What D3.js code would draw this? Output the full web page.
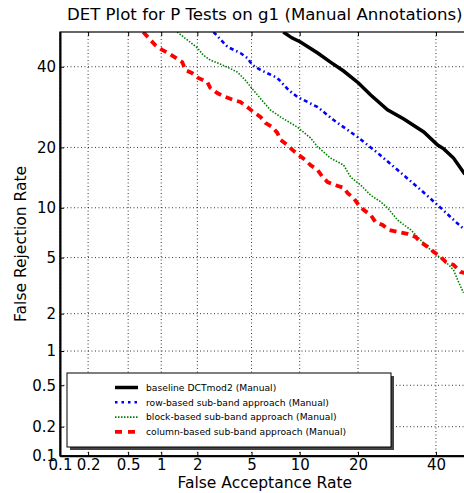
<!DOCTYPE html>
<html>
<head>
<meta charset="utf-8">
<script src="https://cdn.jsdelivr.net/npm/d3@7"></script>
<style>
body { margin: 0; background: #fff; }
svg { display: block; font-family: "DejaVu Sans", sans-serif; }
</style>
</head>
<body>
<script>
// tick labels (percent)
const tickPct = [0.1, 0.2, 0.5, 1, 2, 5, 10, 20, 40];

const seriesNames = [
    "baseline DCTmod2 (Manual)",
    "row-based sub-band approach (Manual)",
    "block-based sub-band approach (Manual)",
    "column-based sub-band approach (Manual)"
];

// false acceptance / false rejection, in percent
const baselineFA = [8.0, 9.0, 10.1, 12.6, 14.7, 17.1, 20.1, 22.8, 26.8, 31.0, 36.5, 40.5, 42.3, 45.2, 48.6];
const baselineFR = [50, 48.3, 47.1, 43.9, 41.3, 38.8, 35.5, 32.3, 28.5, 26.3, 23.3, 20.5, 19.7, 17.9, 15.0];

const rowFA = [2.67, 3.39, 4.19, 4.68, 5.06, 5.73, 7.35, 8.6, 9.7, 12.6, 15.2, 19.9, 24.4, 29.4, 35.6, 39.9, 42.9, 45.9, 48.6];
const rowFR = [50, 45.7, 43.9, 42.5, 40.5, 39.1, 36.9, 33.6, 31.8, 29.2, 26.1, 22.2, 18.9, 15.7, 12.5, 10.6, 9.4, 8.3, 7.45];

const blockFA = [1.37, 1.66, 2.0, 2.23, 2.52, 2.85, 3.38, 3.99, 4.53, 5.14, 5.99, 6.64, 7.68, 9.7, 11.5, 12.6, 14.7, 17.1, 18.5, 20.6, 22.8, 25.1, 26.8, 29.4, 32.9, 35.6, 39.3, 42.3, 45.2, 46.7, 48.2];
const blockFR = [50, 47.7, 45.4, 43.3, 41.9, 41.1, 39.9, 38.5, 36.3, 33.6, 30.5, 28.5, 26.8, 24.4, 22.0, 20.1, 17.9, 16.6, 14.5, 13.2, 11.7, 10.8, 10.0, 8.5, 7.45, 6.47, 5.36, 4.83, 4.14, 3.42, 2.86];

const columnFA = [0.69, 0.885, 1.02, 1.15, 1.51, 1.6, 1.82, 2.03, 2.39, 2.52, 2.85, 3.27, 3.74, 4.19, 4.68, 5.14, 5.73, 6.17, 6.83, 7.35, 7.68, 8.47, 9.08, 9.85, 10.8, 11.5, 12.6, 13.4, 14.2, 15.6, 17.1, 17.9, 19.1, 20.1, 21.2, 22.8, 23.9, 25.6, 27.1, 29.6, 32.0, 34.2, 35.6, 37.6, 39.3, 41.4, 42.9, 45.2, 47.3, 49.5];
const columnFR = [50, 46.2, 44.8, 43.9, 41.3, 39.1, 38.2, 36.9, 35.8, 34.2, 32.8, 31.8, 31.0, 30.5, 29.2, 28.0, 26.8, 25.4, 24.4, 23.1, 21.6, 20.5, 19.5, 18.5, 17.5, 16.6, 15.7, 14.5, 13.7, 13.2, 12.8, 12.0, 11.3, 10.4, 9.74, 9.1, 8.3, 7.97, 7.45, 7.24, 7.05, 6.76, 6.29, 5.86, 5.45, 5.05, 4.69, 4.48, 4.01, 3.9];

// inverse normal cdf (Acklam)
function probit(p) {
    const a = [-3.969683028665376e+01, 2.209460984245205e+02, -2.759285104469687e+02, 1.383577518672690e+02, -3.066479806614716e+01, 2.506628277459239e+00];
    const b = [-5.447609879822406e+01, 1.615858368580409e+02, -1.556989798598866e+02, 6.680131188771972e+01, -1.328068155288572e+01];
    const c = [-7.784894002430293e-03, -3.223964580411365e-01, -2.400758277161838e+00, -2.549671627434894e+00, 4.374664141464968e+00, 2.938163982698783e+00];
    const d = [7.784695709041462e-03, 3.224671290700398e-01, 2.445134137142996e+00, 3.754408661907416e+00];
    const pl = 0.02425;
    if (p < pl) {
        const q = Math.sqrt(-2 * Math.log(p));
        return (((((c[0]*q+c[1])*q+c[2])*q+c[3])*q+c[4])*q+c[5]) / ((((d[0]*q+d[1])*q+d[2])*q+d[3])*q+1);
    }
    if (p <= 1 - pl) {
        const q = p - 0.5, r = q * q;
        return (((((a[0]*r+a[1])*r+a[2])*r+a[3])*r+a[4])*r+a[5])*q / (((((b[0]*r+b[1])*r+b[2])*r+b[3])*r+b[4])*r+1);
    }
    const q = Math.sqrt(-2 * Math.log(1 - p));
    return -(((((c[0]*q+c[1])*q+c[2])*q+c[3])*q+c[4])*q+c[5]) / ((((d[0]*q+d[1])*q+d[2])*q+d[3])*q+1);
}

const width = 464, height = 493;
const plotL = 60, plotR = 469.5, plotT = 32, plotB = 455.8;

const x = d3.scaleLinear().domain([probit(0.001), probit(0.5)]).range([plotL, plotR]);
const y = d3.scaleLinear().domain([probit(0.001), probit(0.5)]).range([plotB, plotT]);
const px = v => x(probit(v / 100));
const py = v => y(probit(v / 100));

const svg = d3.select('body').append('svg')
    .attr('width', width)
    .attr('height', height);

svg.append('defs').append('clipPath').attr('id', 'plot')
    .append('rect')
    .attr('x', plotL).attr('y', plotT)
    .attr('width', plotR - plotL).attr('height', plotB - plotT);

// grid
const grid = svg.append('g')
    .attr('stroke', '#000')
    .attr('stroke-width', 0.8)
    .attr('stroke-dasharray', '1,2.5');
grid.selectAll('.gx').data(tickPct).enter().append('line')
    .attr('x1', d => px(d)).attr('x2', d => px(d))
    .attr('y1', plotT).attr('y2', plotB);
grid.selectAll('.gy').data(tickPct).enter().append('line')
    .attr('x1', plotL).attr('x2', plotR)
    .attr('y1', d => py(d)).attr('y2', d => py(d));

// curves
const series = [
    {fa: baselineFA, fr: baselineFR, color: '#000000', w: 3.5, dash: null},
    {fa: rowFA, fr: rowFR, color: '#0000ff', w: 2.6, dash: '4,3,1.5,3'},
    {fa: blockFA, fr: blockFR, color: '#008000', w: 1.6, dash: '1.5,1.5'},
    {fa: columnFA, fr: columnFR, color: '#ff0000', w: 3.8, dash: '7,5'}
];

const line = d3.line().x(d => px(d[0])).y(d => py(d[1]));

const curves = svg.append('g').attr('clip-path', 'url(#plot)');
curves.selectAll('path').data(series).enter().append('path')
    .attr('d', s => line(s.fa.map((v, i) => [v, s.fr[i]])))
    .attr('fill', 'none')
    .attr('stroke', s => s.color)
    .attr('stroke-width', s => s.w)
    .attr('stroke-dasharray', s => s.dash);

// frame
svg.append('rect')
    .attr('x', plotL).attr('y', plotT)
    .attr('width', plotR - plotL).attr('height', plotB - plotT)
    .attr('fill', 'none').attr('stroke', '#000').attr('stroke-width', 1.2);

const tickVals = tickPct.map(v => probit(v / 100));
const fmt = (d, i) => String(tickPct[i]);

const xAxis = svg.append('g')
    .attr('transform', `translate(0,${plotB})`)
    .call(d3.axisBottom(x).tickValues(tickVals).tickFormat(fmt).tickSizeInner(-4).tickSizeOuter(0).tickPadding(4));
const yAxis = svg.append('g')
    .attr('transform', `translate(${plotL},0)`)
    .call(d3.axisLeft(y).tickValues(tickVals).tickFormat(fmt).tickSizeInner(-4).tickSizeOuter(0).tickPadding(4));
svg.append('g')
    .attr('transform', `translate(0,${plotT})`)
    .call(d3.axisTop(x).tickValues(tickVals).tickFormat('').tickSizeInner(-4).tickSizeOuter(0))
    .select('.domain').remove();

[xAxis, yAxis].forEach(g => {
    g.select('.domain').attr('stroke-width', 2);
    g.selectAll('text').attr('font-size', 15).attr('font-family', 'DejaVu Sans').attr('fill', '#000');
});

// title and labels
svg.append('text')
    .attr('x', (plotL + plotR) / 2).attr('y', 20)
    .attr('text-anchor', 'middle')
    .attr('font-size', 16.6)
    .text('DET Plot for P Tests on g1 (Manual Annotations)');

svg.append('text')
    .attr('x', (plotL + plotR) / 2).attr('y', 488)
    .attr('text-anchor', 'middle')
    .attr('font-size', 15.5)
    .text('False Acceptance Rate');

svg.append('text')
    .attr('transform', `translate(26,${(plotT + plotB) / 2}) rotate(-90)`)
    .attr('text-anchor', 'middle')
    .attr('font-size', 15.5)
    .text('False Rejection Rate');

// legend
const lg = svg.append('g');
lg.append('rect')
    .attr('x', 70).attr('y', 376).attr('width', 324).attr('height', 74)
    .attr('fill', '#444');
lg.append('rect')
    .attr('x', 67).attr('y', 373).attr('width', 324).attr('height', 74)
    .attr('fill', '#fff').attr('stroke', '#000').attr('stroke-width', 1);

const rows = lg.selectAll('.row').data(series).enter().append('g')
    .attr('transform', (d, i) => `translate(0,${387.5 + i * 14.8})`);
rows.append('line')
    .attr('x1', 115).attr('x2', 138)
    .attr('stroke', d => d.color)
    .attr('stroke-width', d => d.w)
    .attr('stroke-dasharray', (d, i) => ['', '2.5,4', '1.5,1.5', '7,6'][i]);
rows.append('text')
    .attr('x', 146).attr('dy', '0.35em')
    .attr('font-size', 9.2)
    .text((d, i) => seriesNames[i]);
</script>
</body>
</html>
